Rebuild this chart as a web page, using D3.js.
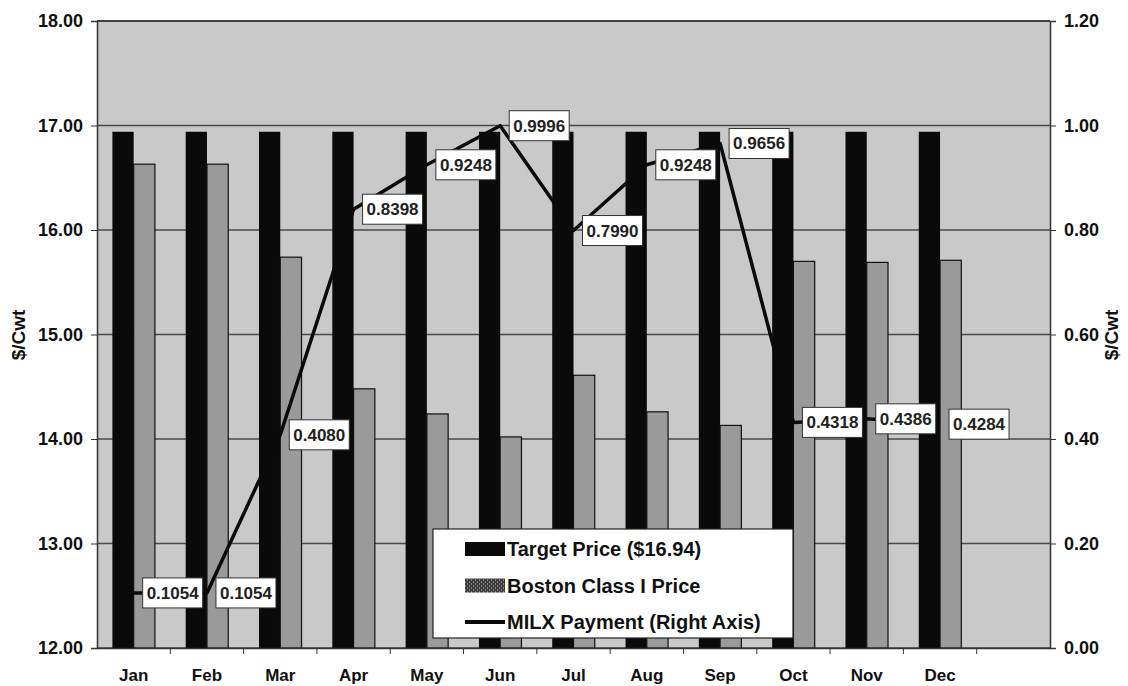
<!DOCTYPE html>
<html>
<head>
<meta charset="utf-8">
<script src="https://cdn.jsdelivr.net/npm/d3@7"></script>
<style>
  body { margin: 0; background: #fff; }
  svg { display: block; font-family: 'Liberation Sans', Arial, sans-serif; font-weight: bold; }
</style>
</head>
<body>
<div id="chart"></div>
<script>
let months = ['Jan', 'Feb', 'Mar', 'Apr', 'May', 'Jun', 'Jul', 'Aug', 'Sep', 'Oct', 'Nov', 'Dec'];
let targetPrice = [16.94, 16.94, 16.94, 16.94, 16.94, 16.94, 16.94, 16.94, 16.94, 16.94, 16.94, 16.94];
let bostonPrice = [16.63, 16.63, 15.74, 14.48, 14.24, 14.02, 14.61, 14.26, 14.13, 15.70, 15.69, 15.71];
let milxPayment = [0.1054, 0.1054, 0.4080, 0.8398, 0.9248, 0.9996, 0.7990, 0.9248, 0.9656, 0.4318, 0.4386, 0.4284];
let leftTicks = [12, 13, 14, 15, 16, 17, 18];
let rightTicks = [0, 0.2, 0.4, 0.6, 0.8, 1.0, 1.2];
let legendNames = ['Target Price ($16.94)', 'Boston Class I Price', 'MILX Payment (Right Axis)'];

let width = 1128, height = 686;
let plotLeft = 97, plotRight = 1050, plotTop = 21, plotBottom = 648;

let svg = d3.select('#chart').append('svg')
    .attr('width', width)
    .attr('height', height);

// a dotted fill for the Boston legend key
let defs = svg.append('defs');
let pat = defs.append('pattern')
    .attr('id', 'dots')
    .attr('width', 4)
    .attr('height', 4)
    .attr('patternUnits', 'userSpaceOnUse');
pat.append('rect').attr('width', 4).attr('height', 4).attr('fill', '#3a3a3a');
pat.append('rect').attr('x', 0).attr('y', 0).attr('width', 1).attr('height', 1).attr('fill', '#d0d0d0');
pat.append('rect').attr('x', 2).attr('y', 2).attr('width', 1).attr('height', 1).attr('fill', '#d0d0d0');

// the chart keeps one empty slot after Dec
let x = d3.scaleBand().domain(months.concat([''])).range([plotLeft, plotRight]);
let yLeft = d3.scaleLinear().domain([12, 18]).range([plotBottom, plotTop]);
let yRight = d3.scaleLinear().domain([0, 1.2]).range([plotBottom, plotTop]);
let bw = x.bandwidth() * 0.29;
let cx = m => x(m) + x.bandwidth() / 2;

svg.append('rect')
    .attr('x', plotLeft)
    .attr('y', plotTop)
    .attr('width', plotRight - plotLeft)
    .attr('height', plotBottom - plotTop)
    .attr('fill', '#c9c9c9');

svg.append('g')
    .selectAll('line')
    .data(leftTicks)
    .enter()
    .append('line')
    .attr('x1', plotLeft)
    .attr('x2', plotRight)
    .attr('y1', d => yLeft(d))
    .attr('y2', d => yLeft(d))
    .attr('stroke', '#4a4a4a')
    .attr('stroke-width', 1.3);

// bars
svg.append('g')
    .selectAll('rect')
    .data(months)
    .enter()
    .append('rect')
    .attr('x', d => cx(d) - bw)
    .attr('y', (d, i) => yLeft(targetPrice[i]))
    .attr('width', bw)
    .attr('height', (d, i) => plotBottom - yLeft(targetPrice[i]))
    .attr('fill', '#0a0a0a');

svg.append('g')
    .selectAll('rect')
    .data(months)
    .enter()
    .append('rect')
    .attr('x', d => cx(d))
    .attr('y', (d, i) => yLeft(bostonPrice[i]))
    .attr('width', bw)
    .attr('height', (d, i) => plotBottom - yLeft(bostonPrice[i]))
    .attr('fill', '#9a9a9a')
    .attr('stroke', '#111')
    .attr('stroke-width', 1.2);

// axes
let leftAxis = d3.axisLeft(yLeft).tickValues(leftTicks).tickFormat(d3.format('.2f')).tickSize(6).tickPadding(8);
let rightAxis = d3.axisRight(yRight).tickValues(rightTicks).tickFormat(d3.format('.2f')).tickSize(6).tickPadding(8);
let bottomAxis = d3.axisBottom(x).tickSize(0).tickPadding(21);

let gl = svg.append('g').attr('transform', 'translate(' + plotLeft + ',0)').call(leftAxis);
let gr = svg.append('g').attr('transform', 'translate(' + plotRight + ',0)').call(rightAxis);
let gb = svg.append('g').attr('transform', 'translate(0,' + plotBottom + ')').call(bottomAxis);

[gl, gr, gb].forEach(g => {
    g.selectAll('.domain').attr('stroke', '#333').attr('stroke-width', 1.5);
    g.selectAll('.tick line').attr('stroke', '#333');
    g.selectAll('text')
        .attr('fill', '#111')
        .style('font-size', '17px')
        .style('font-weight', 'bold')
        .style('font-family', "'Liberation Sans', Arial, sans-serif");
});
gl.selectAll('text').style('font-size', '18px');
gr.selectAll('text').style('font-size', '18px');

// category boundary ticks on the x axis
svg.append('g')
    .selectAll('line')
    .data(months.slice(1).concat(['']))
    .enter()
    .append('line')
    .attr('x1', d => x(d))
    .attr('x2', d => x(d))
    .attr('y1', plotBottom)
    .attr('y2', plotBottom + 6)
    .attr('stroke', '#333');

svg.append('line')
    .attr('x1', plotLeft)
    .attr('x2', plotRight)
    .attr('y1', plotTop)
    .attr('y2', plotTop)
    .attr('stroke', '#333')
    .attr('stroke-width', 1.5);

// axis titles
svg.append('text')
    .attr('transform', 'translate(25,335) rotate(-90)')
    .attr('text-anchor', 'middle')
    .style('font-size', '19px')
    .attr('fill', '#111')
    .text('$/Cwt');

svg.append('text')
    .attr('transform', 'translate(1118,335) rotate(-90)')
    .attr('text-anchor', 'middle')
    .style('font-size', '19px')
    .attr('fill', '#111')
    .text('$/Cwt');

// MILX line
let line = d3.line()
    .x((d, i) => cx(months[i]))
    .y(d => yRight(d));

svg.append('path')
    .datum(milxPayment)
    .attr('d', line)
    .attr('fill', 'none')
    .attr('stroke', '#0a0a0a')
    .attr('stroke-width', 3.5)
    .attr('stroke-linejoin', 'round');

// data labels
let labels = svg.append('g')
    .selectAll('g')
    .data(milxPayment)
    .enter()
    .append('g')
    .attr('transform', (d, i) => 'translate(' + (cx(months[i]) + 9) + ',' + yRight(d) + ')');

labels.append('rect')
    .attr('x', 0)
    .attr('y', -15)
    .attr('width', 60)
    .attr('height', 30)
    .attr('fill', '#fff')
    .attr('stroke', '#333')
    .attr('stroke-width', 1);

labels.append('text')
    .attr('x', 30)
    .attr('y', 6)
    .attr('text-anchor', 'middle')
    .style('font-size', '17px')
    .attr('fill', '#222')
    .text(d => d.toFixed(4));

// legend
let legend = svg.append('g').attr('transform', 'translate(433,529)');

legend.append('rect')
    .attr('width', 360)
    .attr('height', 109)
    .attr('fill', '#fff')
    .attr('stroke', '#222')
    .attr('stroke-width', 1.2);

let rows = legend.selectAll('g.row')
    .data(legendNames)
    .enter()
    .append('g')
    .attr('class', 'row')
    .attr('transform', (d, i) => 'translate(32,' + (20 + i * 36.5) + ')');

rows.filter((d, i) => i < 2)
    .append('rect')
    .attr('x', 0)
    .attr('y', -7)
    .attr('width', 40)
    .attr('height', 14)
    .attr('fill', (d, i) => i === 0 ? '#0a0a0a' : 'url(#dots)');

rows.filter((d, i) => i === 2)
    .append('line')
    .attr('x1', 0)
    .attr('x2', 40)
    .attr('y1', 0)
    .attr('y2', 0)
    .attr('stroke', '#0a0a0a')
    .attr('stroke-width', 4);

rows.append('text')
    .attr('x', 42)
    .attr('y', 7)
    .style('font-size', '20px')
    .attr('fill', '#111')
    .text(d => d);
</script>
</body>
</html>
